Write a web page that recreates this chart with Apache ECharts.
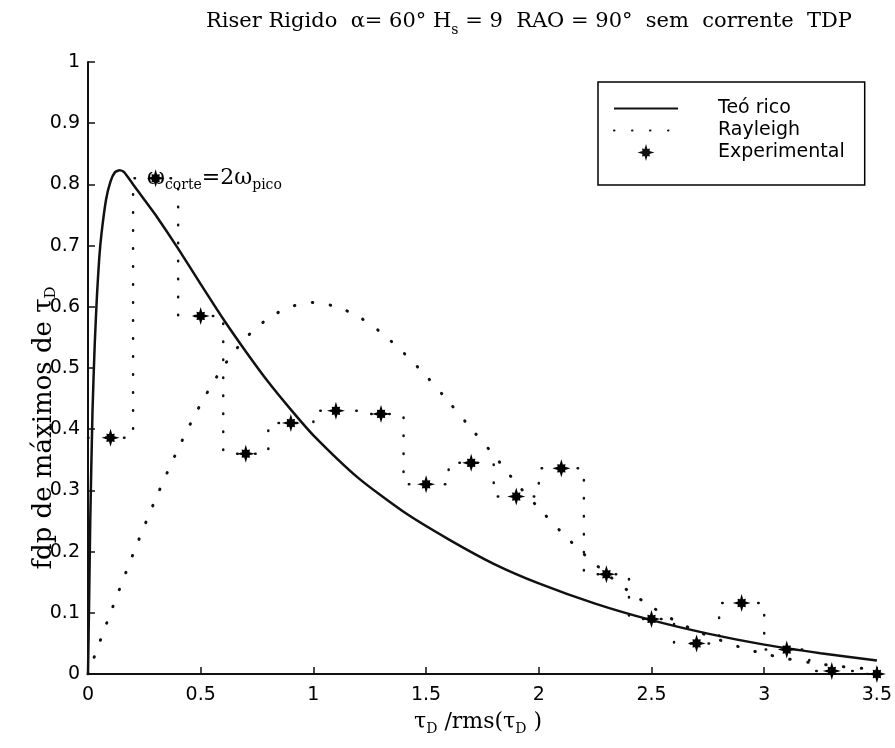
<!DOCTYPE html>
<html>
<head>
<meta charset="utf-8">
<script src="https://cdn.jsdelivr.net/npm/echarts@6/dist/echarts.min.js"></script>
<style>html,body{margin:0;padding:0;background:#fff}#c{width:895px;height:748px}</style>
</head>
<body>
<div id="c"></div>
<script>
// ---- Data ----
const teoricoX = [0, 0.005, 0.01, 0.02, 0.03, 0.04, 0.05, 0.06, 0.08, 0.1, 0.12, 0.14, 0.16, 0.2, 0.25, 0.3, 0.4, 0.5, 0.6, 0.7, 0.8, 0.9, 1.0, 1.2, 1.4, 1.6, 1.8, 2.0, 2.25, 2.5, 2.75, 3.0, 3.25, 3.5];
const teoricoY = [0, 0.12, 0.25, 0.43, 0.54, 0.62, 0.68, 0.72, 0.775, 0.805, 0.82, 0.823, 0.82, 0.80, 0.775, 0.75, 0.695, 0.637, 0.58, 0.527, 0.477, 0.432, 0.39, 0.32, 0.265, 0.22, 0.18, 0.148, 0.115, 0.088, 0.066, 0.048, 0.034, 0.022];

const rayleighX = [0, 0.1, 0.2, 0.3, 0.4, 0.5, 0.6, 0.7, 0.8, 0.9, 1.0, 1.1, 1.2, 1.3, 1.4, 1.5, 1.6, 1.7, 1.8, 1.9, 2.0, 2.1, 2.2, 2.3, 2.4, 2.5, 2.6, 2.7, 2.8, 2.9, 3.0, 3.1, 3.2, 3.3, 3.4, 3.5];
const rayleighY = [0, 0.10, 0.196, 0.286, 0.368, 0.441, 0.502, 0.549, 0.581, 0.600, 0.607, 0.600, 0.584, 0.558, 0.525, 0.487, 0.445, 0.401, 0.358, 0.312, 0.271, 0.232, 0.196, 0.164, 0.135, 0.110, 0.088, 0.070, 0.056, 0.043, 0.033, 0.025, 0.019, 0.014, 0.010, 0.008];

const expCenters = [0.1, 0.3, 0.5, 0.7, 0.9, 1.1, 1.3, 1.5, 1.7, 1.9, 2.1, 2.3, 2.5, 2.7, 2.9, 3.1, 3.3, 3.5];
const expValues  = [0.386, 0.81, 0.585, 0.36, 0.41, 0.43, 0.425, 0.31, 0.345, 0.29, 0.336, 0.163, 0.09, 0.05, 0.116, 0.04, 0.005, 0.0];
const binHalfWidth = 0.1;

const seriesNames = ['Teó rico', 'Rayleigh', 'Experimental'];

// ---- Build ----
const zip = (xs, ys) => xs.map((x, i) => [x, ys[i]]);
const stairData = expCenters.map((c, i) => [c - binHalfWidth, expValues[i]]);
stairData.push([expCenters[expCenters.length - 1] + binHalfWidth, expValues[expValues.length - 1]]);

const STAR = 'path://M10 0L11.7 5.8L14.6 5.4L14.2 8.3L20 10L14.2 11.7L14.6 14.6L11.7 14.2L10 20L8.3 14.2L5.4 14.6L5.8 11.7L0 10L5.8 8.3L5.4 5.4L8.3 5.8Z';
const DOTS = [0.5, 17.5];
const INK = '#111';
const SERIF = '"DejaVu Serif", "Liberation Serif", serif';
const SANS = '"DejaVu Sans", "Liberation Sans", sans-serif';
const HIDDEN = {color: 'rgba(0,0,0,0)', borderColor: 'rgba(0,0,0,0)', borderWidth: 0, opacity: 0};

const chart = echarts.init(document.getElementById('c'), null, {renderer: 'canvas'});
chart.setOption({
  animation: false,
  backgroundColor: '#fff',
  grid: {left: 88, right: 18, top: 62, bottom: 74, containLabel: false},
  xAxis: {
    type: 'value', min: 0, max: 3.5, interval: 0.5,
    axisLine: {show: true, onZero: false, lineStyle: {color: INK, width: 2}},
    axisTick: {show: true, inside: true, length: 7, lineStyle: {color: INK, width: 1.5}},
    splitLine: {show: false},
    axisLabel: {color: '#000', fontFamily: SANS, fontSize: 19, margin: 12}
  },
  yAxis: {
    type: 'value', min: 0, max: 1, interval: 0.1,
    axisLine: {show: true, onZero: false, lineStyle: {color: INK, width: 2}},
    axisTick: {show: true, inside: true, length: 7, lineStyle: {color: INK, width: 1.5}},
    splitLine: {show: false},
    axisLabel: {color: '#000', fontFamily: SANS, fontSize: 19, margin: 8}
  },
  legend: {
    data: [
      {name: seriesNames[0], itemStyle: HIDDEN},
      {name: seriesNames[1], itemStyle: HIDDEN},
      {name: seriesNames[2], icon: STAR, itemStyle: {color: INK, opacity: 1}}
    ],
    orient: 'vertical',
    left: 598, top: 82,
    padding: [17, 20, 23, 15],
    itemWidth: 64, itemHeight: 17, itemGap: 3,
    borderColor: '#000', borderWidth: 1.5,
    backgroundColor: '#fff',
    textStyle: {color: '#000', fontFamily: SANS, fontSize: 19, lineHeight: 19, padding: [0, 0, 0, 35]},
    selectedMode: false
  },
  graphic: [
    {
      type: 'text', x: 529, y: 22, z: 10,
      style: {
        text: '{m|Riser Rigido  α= 60° H}{s|s}{m| = 9  RAO = 90°  sem  corrente  TDP}',
        align: 'center', verticalAlign: 'middle', fill: '#000',
        rich: {
          m: {fontFamily: SERIF, fontSize: 21, fill: '#000'},
          s: {fontFamily: SERIF, fontSize: 14, fill: '#000', padding: [16, 0, 0, 0]}
        }
      }
    },
    {
      type: 'text', x: 478, y: 722, z: 10,
      style: {
        text: '{m|τ}{s|D}{m| /rms(τ}{s|D}{m| )}',
        align: 'center', verticalAlign: 'middle', fill: '#000',
        rich: {
          m: {fontFamily: SERIF, fontSize: 22, fill: '#000'},
          s: {fontFamily: SERIF, fontSize: 14, fill: '#000', padding: [14, 0, 0, 0]}
        }
      }
    },
    {
      type: 'text', x: 44, y: 428, rotation: Math.PI / 2, z: 10,
      style: {
        text: '{m|fdp de máximos de τ}{s|D}',
        align: 'center', verticalAlign: 'middle', fill: '#000',
        rich: {
          m: {fontFamily: SERIF, fontSize: 26, fill: '#000'},
          s: {fontFamily: SERIF, fontSize: 15, fill: '#000', padding: [14, 0, 0, 0]}
        }
      }
    },
    {
      type: 'text', x: 147, y: 178, z: 10,
      style: {
        text: '{m|ω}{s|corte}{m|=2ω}{s|pico}',
        align: 'left', verticalAlign: 'middle', fill: '#000',
        rich: {
          m: {fontFamily: SERIF, fontSize: 22, fill: '#000'},
          s: {fontFamily: SERIF, fontSize: 14, fill: '#000', padding: [14, 0, 0, 0]}
        }
      }
    }
  ],
  series: [
    {
      name: seriesNames[0], type: 'line', data: zip(teoricoX, teoricoY),
      showSymbol: false, symbol: 'none', smooth: 0.2, z: 3,
      lineStyle: {color: INK, width: 2.5}, itemStyle: {color: INK}
    },
    {
      name: seriesNames[1], type: 'line', data: zip(rayleighX, rayleighY),
      showSymbol: false, symbol: 'none', smooth: 0.3, z: 2,
      lineStyle: {color: INK, width: 3, type: DOTS, cap: 'round'}, itemStyle: {color: INK}
    },
    {
      name: 'stairs', type: 'line', data: stairData, step: 'end',
      showSymbol: false, symbol: 'none', z: 2, clip: true,
      lineStyle: {color: INK, width: 2.5, type: DOTS, cap: 'round'}
    },
    {
      name: seriesNames[2], type: 'scatter', data: zip(expCenters, expValues),
      symbol: STAR, symbolSize: 18, z: 5, clip: false,
      itemStyle: {color: '#000', opacity: 1}
    }
  ]
});
</script>
</body>
</html>
